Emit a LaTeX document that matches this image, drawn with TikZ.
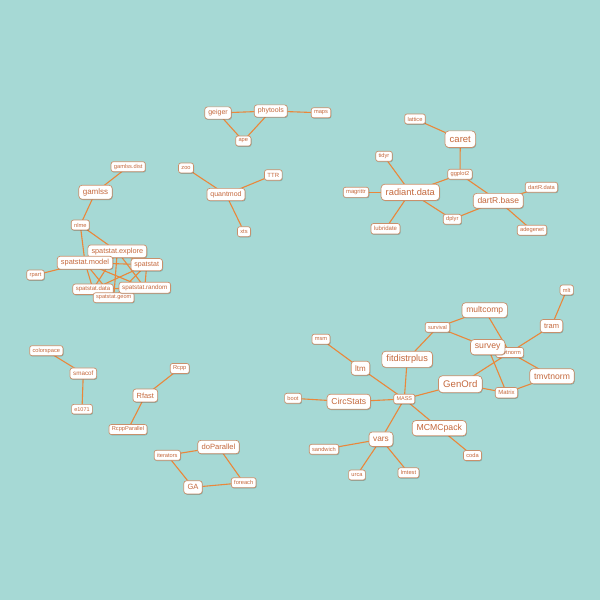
\documentclass[tikz,border=0pt]{standalone}
\usepackage{fontspec}
\setmainfont{Liberation Sans}
\usetikzlibrary{shadows,backgrounds}
\definecolor{bgc}{HTML}{A6D9D5}
\definecolor{edgec}{HTML}{EA873A}
\definecolor{bordc}{HTML}{C8906C}
\definecolor{txtc}{HTML}{C4683C}
\tikzset{
  nd/.style={draw=bordc, fill=white, line width=0.7pt, text=txtc,
    rounded corners=#1*0.4pt, font=\fontsize{#1}{#1}\selectfont,
    inner xsep=#1*0.5pt, inner ysep=0pt, minimum height=#1*1.75pt,
    drop shadow={shadow xshift=0.6pt, shadow yshift=-0.8pt, fill=black, opacity=0.22}},
  lnk/.style={draw=edgec, line width=1.1pt}
}
\newcommand\pkgnode[5]{\node[nd=#4] (#1) at (#2,#3) {#5};}
\newcommand\lk[2]{\draw[lnk] (#1.center) -- (#2.center);}
\begin{document}
\begin{tikzpicture}[x=1pt,y=-1pt]
\useasboundingbox (0,0) rectangle (600,600);
% phylo cluster
\pkgnode{geiger}{218}{113}{7}{geiger}
\pkgnode{phytools}{270.8}{111}{7}{phytools}
\pkgnode{maps}{321}{112.8}{5.7}{maps}
\pkgnode{ape}{243.3}{141}{5.7}{ape}
% quantmod
\pkgnode{zoo}{186}{168}{5.7}{zoo}
\pkgnode{TTR}{273.3}{175}{6}{TTR}
\pkgnode{quantmod}{226}{194.5}{7}{quantmod}
\pkgnode{xts}{244}{231.7}{5.7}{xts}
% gamlss / spatstat
\pkgnode{gamlssdist}{128.2}{166.7}{5.7}{gamlss.dist}
\pkgnode{gamlss}{95.5}{192.2}{8}{gamlss}
\pkgnode{nlme}{80.3}{225}{5.7}{nlme}
\pkgnode{rpart}{35.5}{275}{5.7}{rpart}
\pkgnode{ssexplore}{117.3}{251.3}{7.3}{spatstat.explore}
\pkgnode{ssmodel}{85}{262.7}{7.4}{spatstat.model}
\pkgnode{spatstat}{146.7}{264.7}{7}{spatstat}
\pkgnode{ssdata}{93}{289.3}{6}{spatstat.data}
\pkgnode{ssgeom}{113.7}{297.7}{5.6}{spatstat.geom}
\pkgnode{ssrandom}{144.8}{287.7}{6.3}{spatstat.random}
% caret / radiant / dartR
\pkgnode{lattice}{415}{119}{5.7}{lattice}
\pkgnode{caret}{460.3}{139.2}{9.5}{caret}
\pkgnode{tidyr}{384}{156.3}{5.7}{tidyr}
\pkgnode{ggplot}{460}{174.3}{5.7}{ggplot2}
\pkgnode{magrittr}{356}{192.3}{5.8}{magrittr}
\pkgnode{radiant}{410.3}{192.3}{9.3}{radiant.data}
\pkgnode{dartRdata}{541.5}{187.3}{5.7}{dartR.data}
\pkgnode{dartRbase}{498.3}{200.8}{8.5}{dartR.base}
\pkgnode{dplyr}{452.3}{219.3}{5.7}{dplyr}
\pkgnode{lubridate}{385.5}{228.8}{6}{lubridate}
\pkgnode{adegenet}{532}{230.2}{5.7}{adegenet}
% big cluster
\pkgnode{mlt}{566.7}{290}{5.7}{mlt}
\pkgnode{multcomp}{484.7}{310.2}{8.5}{multcomp}
\pkgnode{tram}{551.5}{326}{7.5}{tram}
\pkgnode{survival}{437.5}{327.3}{5.6}{survival}
\pkgnode{msm}{321}{339.2}{5.7}{msm}
\pkgnode{mvtnorm}{509.7}{352.5}{5.7}{mvtnorm}
\pkgnode{survey}{487.7}{347.2}{8.7}{survey}
\pkgnode{fitdistrplus}{407.2}{359.3}{9.2}{fitdistrplus}
\pkgnode{ltm}{360.5}{368.2}{8}{ltm}
\pkgnode{GenOrd}{460.3}{384.2}{9.6}{GenOrd}
\pkgnode{tmvtnorm}{552}{376.3}{8.6}{tmvtnorm}
\pkgnode{Matrix}{506.5}{392.7}{6}{Matrix}
\pkgnode{boot}{293}{398.3}{5.7}{boot}
\pkgnode{CircStats}{348.8}{401.7}{8.6}{CircStats}
\pkgnode{MASS}{404.3}{399}{5.5}{MASS}
\pkgnode{MCMCpack}{439.3}{428.2}{8.7}{MCMCpack}
\pkgnode{vars}{381}{439.2}{8.3}{vars}
\pkgnode{sandwich}{324}{449.3}{5.7}{sandwich}
\pkgnode{coda}{472.5}{455.5}{5.7}{coda}
\pkgnode{urca}{357}{475}{5.7}{urca}
\pkgnode{lmtest}{408.5}{472.8}{5.7}{lmtest}
% left lower
\pkgnode{colorspace}{46.3}{350.7}{5.7}{colorspace}
\pkgnode{smacof}{83.3}{373.5}{6.3}{smacof}
\pkgnode{eseventy}{82}{409.2}{5.5}{e1071}
\pkgnode{Rcpp}{179.7}{368.5}{5.7}{Rcpp}
\pkgnode{Rfast}{145.3}{395.5}{7.4}{Rfast}
\pkgnode{RcppParallel}{128}{429.5}{5.7}{RcppParallel}
\pkgnode{doParallel}{218.5}{447}{7.6}{doParallel}
\pkgnode{iterators}{167.3}{455.3}{5.7}{iterators}
\pkgnode{GA}{193}{487.3}{7.6}{GA}
\pkgnode{foreach}{243.7}{482.7}{5.7}{foreach}
\begin{pgfonlayer}{background}
\fill[bgc] (0,0) rectangle (600,600);
\lk{geiger}{phytools}\lk{geiger}{ape}\lk{phytools}{ape}\lk{phytools}{maps}
\lk{quantmod}{zoo}\lk{quantmod}{TTR}\lk{quantmod}{xts}
\lk{gamlss}{gamlssdist}\lk{gamlss}{nlme}
\lk{nlme}{ssexplore}\lk{nlme}{ssmodel}
\lk{spatstat}{ssdata}\lk{spatstat}{ssgeom}\lk{spatstat}{ssrandom}\lk{spatstat}{ssexplore}\lk{spatstat}{ssmodel}
\lk{ssmodel}{ssdata}\lk{ssmodel}{ssgeom}\lk{ssmodel}{ssrandom}\lk{ssmodel}{ssexplore}\lk{ssmodel}{rpart}
\lk{ssexplore}{ssdata}\lk{ssexplore}{ssgeom}\lk{ssexplore}{ssrandom}
\lk{ssrandom}{ssdata}\lk{ssrandom}{ssgeom}\lk{ssgeom}{ssdata}
\lk{caret}{lattice}\lk{caret}{ggplot}\lk{ggplot}{radiant}\lk{ggplot}{dartRbase}
\lk{radiant}{tidyr}\lk{radiant}{magrittr}\lk{radiant}{lubridate}\lk{radiant}{dplyr}
\lk{dplyr}{dartRbase}\lk{dartRbase}{dartRdata}\lk{dartRbase}{adegenet}
\lk{colorspace}{smacof}\lk{smacof}{eseventy}
\lk{Rfast}{Rcpp}\lk{Rfast}{RcppParallel}
\lk{doParallel}{iterators}\lk{doParallel}{foreach}\lk{iterators}{GA}\lk{GA}{foreach}
\lk{MASS}{ltm}\lk{ltm}{msm}\lk{MASS}{fitdistrplus}\lk{fitdistrplus}{survival}
\lk{survival}{multcomp}\lk{survival}{survey}\lk{multcomp}{mvtnorm}\lk{survey}{Matrix}
\lk{mvtnorm}{tram}\lk{tram}{mlt}\lk{mvtnorm}{tmvtnorm}\lk{Matrix}{tmvtnorm}
\lk{GenOrd}{Matrix}\lk{GenOrd}{mvtnorm}\lk{GenOrd}{MASS}
\lk{MASS}{CircStats}\lk{CircStats}{boot}\lk{MASS}{MCMCpack}\lk{MCMCpack}{coda}
\lk{MASS}{vars}\lk{vars}{sandwich}\lk{vars}{urca}\lk{vars}{lmtest}
\end{pgfonlayer}
\end{tikzpicture}
\end{document}
